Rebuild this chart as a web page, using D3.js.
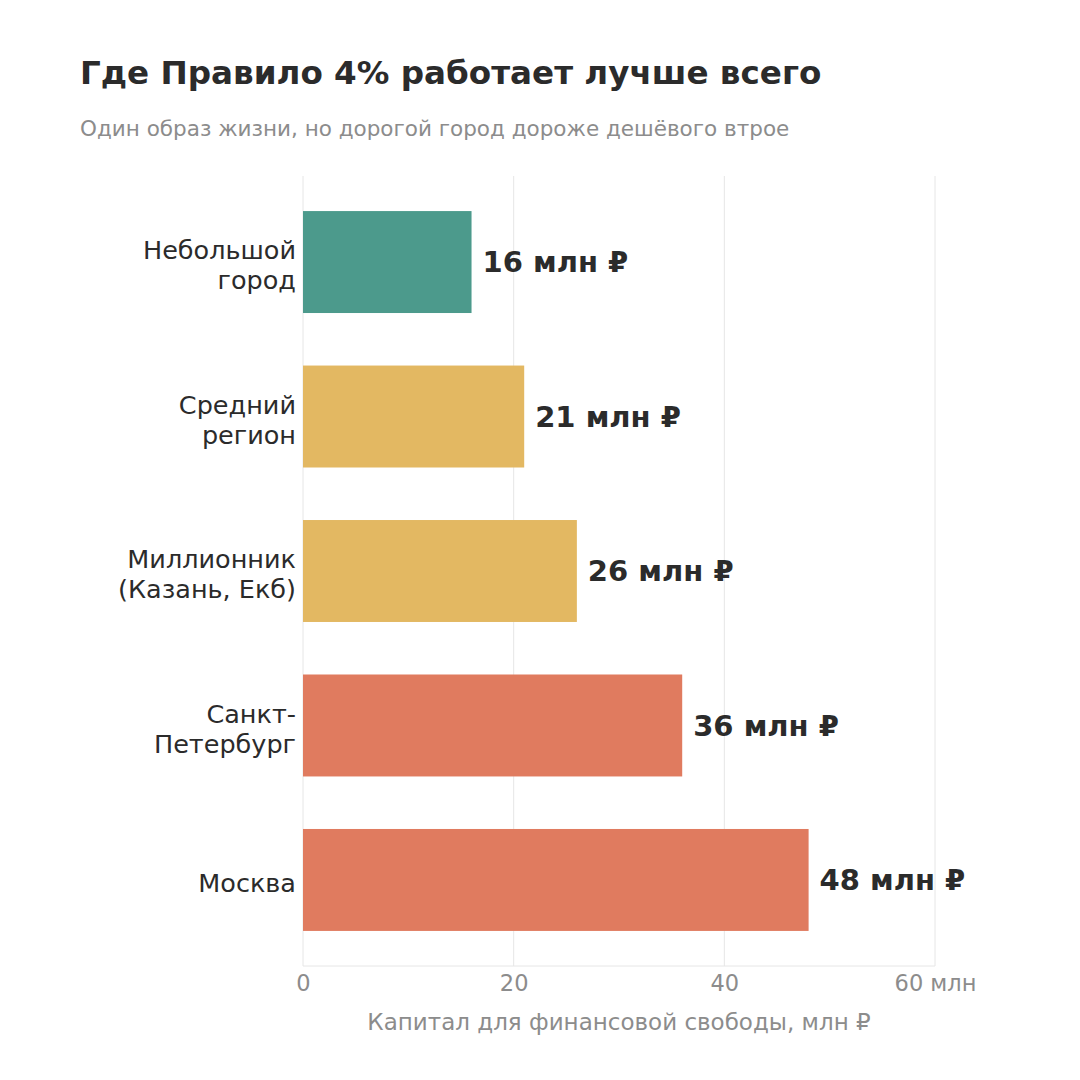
<!DOCTYPE html>
<html>
<head>
<meta charset="utf-8">
<script src="https://cdn.jsdelivr.net/npm/d3@7"></script>
<style>
  body { margin: 0; background: #fff; }
  svg { font-family: "DejaVu Sans", sans-serif; }
</style>
</head>
<body>
<svg class="chart_svg" width="1080" height="1080"></svg>
<script>
// data
const cities = [["Небольшой", "город"], ["Средний", "регион"], ["Миллионник", "(Казань, Екб)"], ["Санкт-", "Петербург"], ["Москва"]]
const capital = [16, 21, 26, 36, 48]
const tiers = ["cheap", "mid", "mid", "expensive", "expensive"]
const xTicks = [0, 20, 40, 60]

const tierColor = {cheap: "#4c9a8c", mid: "#e3b862", expensive: "#e07b5f"}

const margin = {top: 176, right: 145, bottom: 114, left: 303}
const width = 1080 - margin.left - margin.right
const height = 1080 - margin.top - margin.bottom

const svg = d3.select(".chart_svg")

svg.append("text")
    .attr("x", 80).attr("y", 84)
    .attr("font-size", "32.6px").attr("font-weight", "bold")
    .attr("fill", "#2b2b2b")
    .text("Где Правило 4% работает лучше всего")

svg.append("text")
    .attr("x", 80).attr("y", 136)
    .attr("font-size", "21.5px")
    .attr("fill", "#8c8c8c")
    .text("Один образ жизни, но дорогой город дороже дешёвого втрое")

const g = svg.append("g")
    .attr("transform", `translate(${margin.left}, ${margin.top})`)

const x = d3.scaleLinear().domain([0, 60]).range([0, width])
const y = d3.scaleBand()
    .domain(d3.range(cities.length))
    .range([0, height])
    .paddingInner(0.34)
    .paddingOuter(0.227)

// vertical grid
g.selectAll(".grid")
    .data(xTicks)
    .enter().append("line")
    .attr("x1", d => x(d)).attr("x2", d => x(d))
    .attr("y1", 0).attr("y2", height)
    .attr("stroke", "#e6e6e6").attr("stroke-width", 1)

// bottom line
g.append("line")
    .attr("x1", 0).attr("x2", width)
    .attr("y1", height).attr("y2", height)
    .attr("stroke", "#e6e6e6")

const xAxis = d3.axisBottom(x)
    .tickValues(xTicks)
    .tickSize(0)
    .tickPadding(9)
    .tickFormat(d => d === 60 ? "60 млн" : d)

g.append("g")
    .attr("class", "x axis")
    .attr("transform", `translate(0, ${height})`)
    .call(xAxis)
    .call(a => a.select(".domain").remove())
    .selectAll("text")
    .attr("font-family", "DejaVu Sans")
    .attr("font-size", "22.5px")
    .attr("fill", "#8c8c8c")

g.append("text")
    .attr("x", width / 2).attr("y", height + 64)
    .attr("text-anchor", "middle")
    .attr("font-size", "23px")
    .attr("fill", "#8c8c8c")
    .text("Капитал для финансовой свободы, млн ₽")

// bars
g.selectAll(".bar")
    .data(capital)
    .enter().append("rect")
    .attr("class", "bar")
    .attr("x", 0)
    .attr("y", (d, i) => y(i))
    .attr("width", d => x(d))
    .attr("height", y.bandwidth())
    .attr("fill", (d, i) => tierColor[tiers[i]])

// value labels
g.selectAll(".val")
    .data(capital)
    .enter().append("text")
    .attr("x", d => x(d) + 11)
    .attr("y", (d, i) => y(i) + y.bandwidth() / 2)
    .attr("dy", "0.36em")
    .attr("font-size", "29px").attr("font-weight", "bold")
    .attr("fill", "#2b2b2b")
    .text(d => d + " млн ₽")

// category labels
const lineH = 30
g.selectAll(".cat")
    .data(cities)
    .enter().append("text")
    .attr("text-anchor", "end")
    .attr("font-size", "25.5px")
    .attr("fill", "#2b2b2b")
    .each(function(lines, i) {
        const cy = y(i) + y.bandwidth() / 2 + 3
        const t = d3.select(this)
        lines.forEach((ln, k) => {
            t.append("tspan")
                .attr("x", -7)
                .attr("y", cy + (k - (lines.length - 1) / 2) * lineH)
                .attr("dy", "0.36em")
                .text(ln)
        })
    })
</script>
</body>
</html>
